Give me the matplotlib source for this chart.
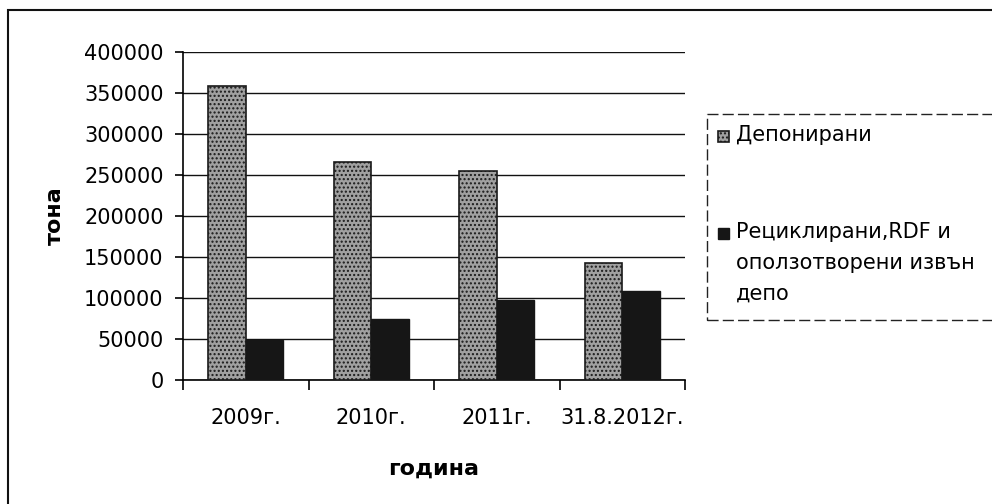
import matplotlib.pyplot as plt
import numpy as np
from matplotlib.patches import Rectangle

plt.rcParams['font.family'] = ['DejaVu Sans']

# data
godini = ['2009г.', '2010г.', '2011г.', '31.8.2012г.']
deponirani = [358000, 266000, 255000, 143000]
reciklirani = [49000, 75000, 98000, 108000]
serii = ['Депонирани', 'Рециклирани,RDF и\nоползотворени извън\nдепо']
y_ticks = [0, 50000, 100000, 150000, 200000, 250000, 300000, 350000, 400000]

W, H = 992, 504
fig = plt.figure(figsize=(W / 100, H / 100), dpi=100)
ax = fig.add_axes([183 / W, 1 - 380 / H, (685 - 183) / W, (380 - 52) / H])

x = np.arange(len(godini))
w = 0.3
dep_style = dict(facecolor='#a0a0a0', edgecolor='#1a1a1a', hatch='....', linewidth=1.2)
rec_style = dict(facecolor='#161616', edgecolor='#161616', linewidth=1.0)
ax.bar(x - w / 2, deponirani, w, zorder=3, **dep_style)
ax.bar(x + w / 2, reciklirani, w, zorder=3, **rec_style)

ax.set_ylim(0, 400000)
ax.set_xlim(-0.5, len(godini) - 0.5)
ax.set_yticks(y_ticks)
ax.set_yticklabels([str(v) for v in y_ticks], fontsize=15)
ax.yaxis.grid(True, color='#111111', linewidth=1.0)
ax.set_axisbelow(True)

# category ticks sit between the groups, labels in the middle
ax.set_xticks(np.arange(-0.5, len(godini), 1.0))
ax.set_xticklabels([])
ax.set_xticks(x, minor=True)
ax.set_xticklabels(godini, minor=True, fontsize=15)
ax.tick_params(axis='x', which='minor', length=0, pad=20)
ax.tick_params(axis='x', which='major', length=7, width=1.2, direction='out')
ax.tick_params(axis='y', length=6, width=1.2, direction='out', pad=8)

for s in ['top', 'right']:
    ax.spines[s].set_visible(False)
ax.spines['left'].set_linewidth(1.2)
ax.spines['bottom'].set_linewidth(1.2)

ax.set_ylabel('тона', fontsize=16, fontweight='bold', labelpad=14)
ax.set_xlabel('година', fontsize=16, fontweight='bold', labelpad=22)

# legend drawn by hand: the scan's box runs off the right edge and the
# marker sits on the first line of the wrapped label
fig.patches.append(Rectangle((707 / W, 1 - 320 / H), 0.4, (320 - 114) / H,
                             transform=fig.transFigure, fill=False,
                             edgecolor='#222222', linewidth=1.0,
                             linestyle=(0, (8, 3))))
for label, style, yc in zip(serii, [dep_style, rec_style], [136, 233]):
    fig.patches.append(Rectangle((718 / W, 1 - (yc + 6) / H), 11 / W, 11 / H,
                                 transform=fig.transFigure, **style))
    fig.text(736 / W, 1 - (yc - 11) / H, label, fontsize=15, va='top',
             ha='left', linespacing=1.68)

# outer chart frame from the scan
fig.patches.append(Rectangle((8 / W, -0.05), 1.1, 1 - 10 / H + 0.05,
                             transform=fig.transFigure, fill=False,
                             edgecolor='#111111', linewidth=1.5))

fig.savefig('out.png', dpi=100)
